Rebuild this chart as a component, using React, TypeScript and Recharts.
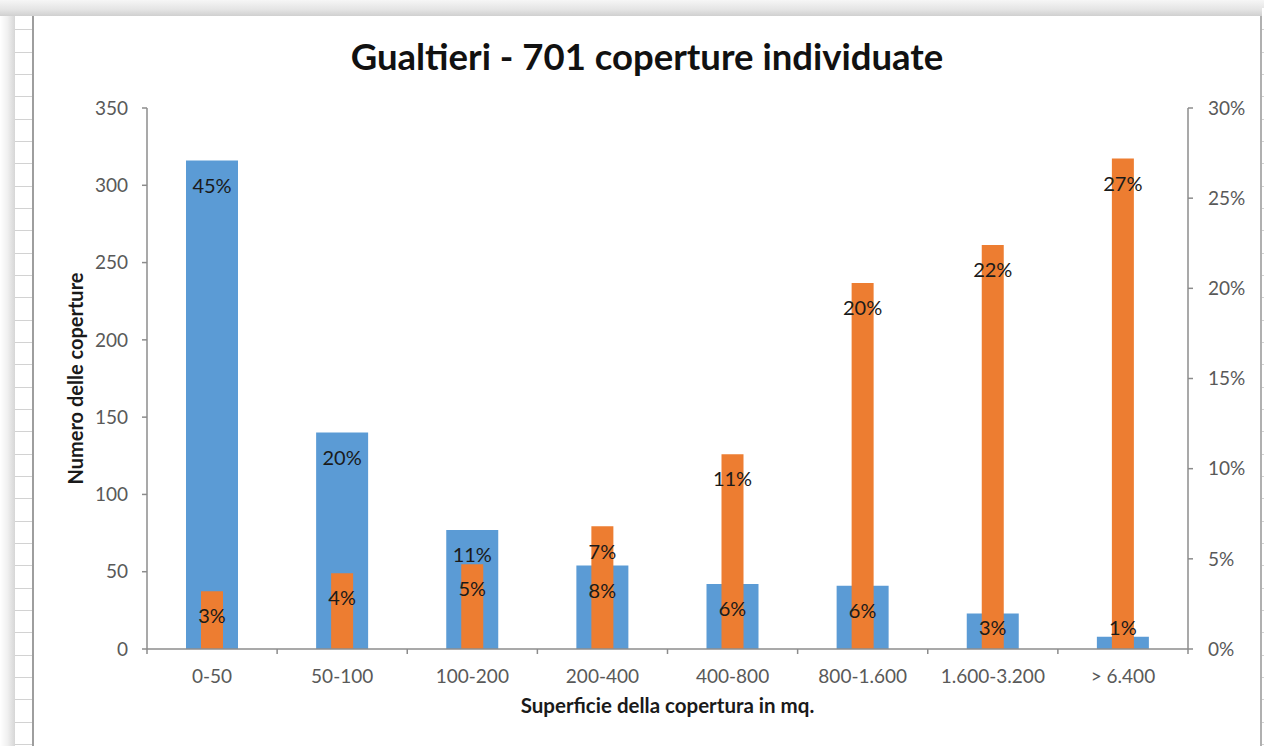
import React from 'react';
import { ComposedChart, Bar, XAxis, YAxis, LabelList, Label } from 'recharts';

const categories = ['0-50', '50-100', '100-200', '200-400', '400-800', '800-1.600', '1.600-3.200', '> 6.400'];
const countValues = [316, 140, 77, 54, 42, 41, 23, 8];
const areaShares = [0.032, 0.042, 0.047, 0.068, 0.108, 0.203, 0.224, 0.272];
const leftTicks = [0, 50, 100, 150, 200, 250, 300, 350];
const rightTicks = [0, 0.05, 0.1, 0.15, 0.2, 0.25, 0.3];

const titleText = 'Gualtieri - 701 coperture individuate';
const yTitle = 'Numero delle coperture';
const xTitle = 'Superficie della copertura in mq.';

const total = countValues.reduce((a, b) => a + b, 0);
const data = categories.map((c, i) => ({
  cat: c,
  count: countValues[i],
  countShare: countValues[i] / total,
  area: areaShares[i],
}));

const FONT = 'Lato, "Open Sans", sans-serif';
const BLUE = '#5B9BD5';
const ORANGE = '#ED7D31';
const AXIS = '#8c8c8c';
const TICKTXT = '#595959';

const pct = (v: number) => `${Math.round(v * 100)}%`;

const insideEnd = (props: any) => {
  const x = Number(props.x);
  const y = Number(props.y);
  const w = Number(props.width);
  const h = Number(props.height);
  const cy = Math.min(y + 25, y + h - 21);
  return (
    <text x={x + w / 2} y={cy} dy="0.36em" textAnchor="middle" fontSize={20} fill="#1a1a1a" fontFamily={FONT}>
      {pct(Number(props.value))}
    </text>
  );
};

const CatTick = (props: any) => {
  const { x, y, payload, index, visibleTicksCount } = props;
  const off = typeof payload?.offset === 'number' && payload.offset > 0 ? payload.offset : 65;
  const last = index === (visibleTicksCount ?? categories.length) - 1;
  return (
    <g>
      <line x1={x - off} x2={x - off} y1={y - 5} y2={y} stroke={AXIS} strokeWidth={1.5} />
      {last && <line x1={x + off} x2={x + off} y1={y - 5} y2={y} stroke={AXIS} strokeWidth={1.5} />}
      <text x={x} y={y + 29} textAnchor="middle" fontSize={19} fill={TICKTXT} fontFamily={FONT}>
        {payload.value}
      </text>
    </g>
  );
};

export default function App() {
  return (
    <div style={{ position: 'absolute', left: 0, top: 0, width: 1264, height: 746, background: '#fff', overflow: 'hidden' }}>
      {/* spreadsheet cells on the left */}
      <div
        style={{
          position: 'absolute', left: 15, top: 8, width: 17, height: 746,
          background: 'repeating-linear-gradient(to bottom, #ffffff 0px, #ffffff 21.33px, #d2d2d2 21.33px, #d2d2d2 22.33px)',
        }}
      />
      {/* left shadow */}
      <div style={{ position: 'absolute', left: 0, top: 0, width: 15, height: 746, background: 'linear-gradient(to right, #ffffff 0%, #f0f0f0 50%, #d6d6d6 100%)' }} />
      {/* top shadow */}
      <div style={{ position: 'absolute', left: 0, top: 0, width: 1264, height: 16, background: 'linear-gradient(to bottom, #f6f6f6 0%, #e4e4e4 60%, #d0d0d0 100%)' }} />
      {/* chart border lines */}
      <div style={{ position: 'absolute', left: 32, top: 16, width: 2, height: 730, background: '#9e9e9e' }} />
      <div style={{ position: 'absolute', left: 1260, top: 16, width: 2, height: 730, background: '#b0b0b0' }} />
      <div
        style={{
          position: 'absolute', left: 1262, top: 8, width: 2, height: 746,
          background: 'repeating-linear-gradient(to bottom, #ffffff 0px, #ffffff 21.33px, #d2d2d2 21.33px, #d2d2d2 22.33px)',
        }}
      />
      {/* title */}
      <div
        style={{
          position: 'absolute', left: 33, top: 36, width: 1228, textAlign: 'center',
          fontFamily: FONT, fontWeight: 700, fontSize: 36.5, lineHeight: '40px', color: '#111',
        }}
      >
        {titleText}
      </div>
      <div style={{ position: 'absolute', left: 0, top: 0 }}>
        <ComposedChart width={1264} height={746} data={data} margin={{ top: 108, right: 0, bottom: 0, left: 0 }}>
          <XAxis
            xAxisId="a"
            dataKey="cat"
            height={97}
            tickLine={false}
            tickSize={5}
            tickMargin={0}
            axisLine={{ stroke: AXIS, strokeWidth: 1.5 }}
            tick={<CatTick />}
            interval={0}
          >
            <Label
              content={(p: any) => {
                const vb = p.viewBox || {};
                return (
                  <text x={vb.x + vb.width / 2} y={vb.y + 64} textAnchor="middle" fontSize={20.5} fontWeight={700} fill="#1a1a1a" fontFamily={FONT}>
                    {xTitle}
                  </text>
                );
              }}
            />
          </XAxis>
          <XAxis xAxisId="b" dataKey="cat" hide />
          <XAxis xAxisId="c" dataKey="cat" hide />
          <YAxis
            yAxisId="left"
            orientation="left"
            width={147}
            domain={[0, 350]}
            ticks={leftTicks}
            interval={0}
            tickSize={5}
            tickMargin={14}
            axisLine={{ stroke: AXIS, strokeWidth: 1.5 }}
            tickLine={{ stroke: AXIS, strokeWidth: 1.5 }}
            tick={{ fontSize: 19, fill: TICKTXT, fontFamily: FONT }}
          >
            <Label
              content={(p: any) => {
                const vb = p.viewBox || {};
                const cx = 83;
                const cy = vb.y + vb.height / 2;
                return (
                  <text x={cx} y={cy} transform={`rotate(-90, ${cx}, ${cy})`} textAnchor="middle" fontSize={20} fontWeight={700} fill="#1a1a1a" fontFamily={FONT}>
                    {yTitle}
                  </text>
                );
              }}
            />
          </YAxis>
          <YAxis
            yAxisId="right"
            orientation="right"
            width={76}
            domain={[0, 0.3]}
            ticks={rightTicks}
            interval={0}
            tickSize={5}
            tickMargin={15}
            tickFormatter={pct}
            axisLine={{ stroke: AXIS, strokeWidth: 1.5 }}
            tickLine={{ stroke: AXIS, strokeWidth: 1.5 }}
            tick={{ fontSize: 19, fill: TICKTXT, fontFamily: FONT, textAnchor: 'start' }}
          />
          <Bar xAxisId="a" yAxisId="left" dataKey="count" barSize={52} fill={BLUE} isAnimationActive={false} />
          <Bar xAxisId="b" yAxisId="right" dataKey="area" barSize={22} fill={ORANGE} isAnimationActive={false}>
            <LabelList dataKey="area" content={insideEnd} />
          </Bar>
          <Bar xAxisId="c" yAxisId="left" dataKey="count" barSize={52} fill="transparent" isAnimationActive={false}>
            <LabelList dataKey="countShare" content={insideEnd} />
          </Bar>
        </ComposedChart>
      </div>
    </div>
  );
}
